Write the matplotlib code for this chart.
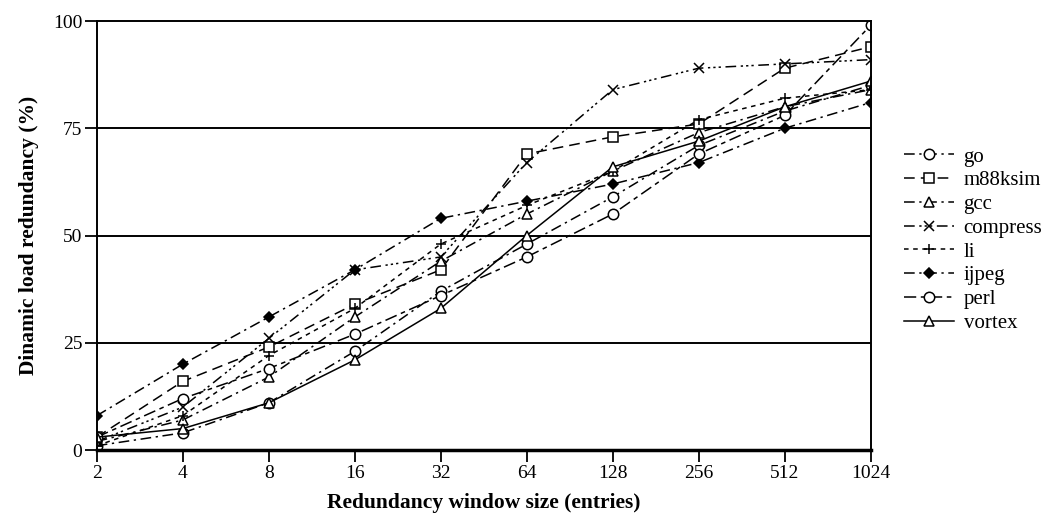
import matplotlib
matplotlib.use('Agg')
import matplotlib.pyplot as plt
from matplotlib.ticker import FixedLocator, FixedFormatter, NullLocator

# redundancy window sizes (entries)
window = [2, 4, 8, 16, 32, 64, 128, 256, 512, 1024]

go = [1, 4, 11, 23, 37, 48, 59, 71, 79, 85]
m88ksim = [3, 16, 24, 34, 42, 69, 73, 76, 89, 94]
gcc = [2, 7, 17, 31, 44, 55, 65, 74, 80, 84]
compress = [2, 10, 26, 42, 45, 67, 84, 89, 90, 91]
li = [1, 8, 22, 33, 48, 57, 65, 77, 82, 84]
ijpeg = [8, 20, 31, 42, 54, 58, 62, 67, 75, 81]
perl = [3, 12, 19, 27, 36, 45, 55, 69, 78, 99]
vortex = [3, 5, 11, 21, 33, 50, 66, 72, 80, 86]

yticks = [0, 25, 50, 75, 100]

plt.rcParams['font.family'] = ['Liberation Serif', 'DejaVu Serif']

series = [
    ('go', go, 'o', (0, (7, 3, 1.5, 3)), 'white'),
    ('m88ksim', m88ksim, 's', (0, (7, 4)), 'white'),
    ('gcc', gcc, '^', (0, (7, 3, 1.5, 3)), 'white'),
    ('compress', compress, 'x', (0, (7, 3, 1.5, 2, 1.5, 2, 1.5, 3)), 'white'),
    ('li', li, '+', (0, (3, 3)), 'white'),
    ('ijpeg', ijpeg, 'D', (0, (7, 3, 1.5, 3)), 'black'),
    ('perl', perl, 'o', (0, (8, 3, 3, 3)), 'white'),
    ('vortex', vortex, '^', '-', 'white'),
]

fig = plt.figure(figsize=(10.55, 5.19), dpi=100)
ax = fig.add_axes([0.0917, 0.1329, 0.7336, 0.8266])

for name, vals, mk, ls, fc in series:
    ms = 5 if mk == 'D' else 7.5
    ax.plot(window, vals, linestyle=ls, color='black', lw=1.1,
            marker=mk, markersize=ms, markerfacecolor=fc,
            markeredgecolor='black', markeredgewidth=1.1, label=name)

ax.set_xscale('log', base=2)
ax.set_xlim(2, 1024)
ax.set_ylim(0, 100)
ax.xaxis.set_major_locator(FixedLocator(window))
ax.xaxis.set_major_formatter(FixedFormatter([str(w) for w in window]))
ax.xaxis.set_minor_locator(NullLocator())
ax.set_yticks(yticks)
for y in yticks[1:-1]:
    ax.axhline(y, color='black', lw=1.4, zorder=0)

ax.tick_params(axis='both', direction='out', length=8.5, width=1.3,
               labelsize=14, colors='black', pad=2)
for side in ['left', 'right', 'top']:
    ax.spines[side].set_linewidth(1.4)
ax.spines['bottom'].set_linewidth(2.5)

ax.set_xlabel('Redundancy window size (entries)', fontsize=15.5,
              fontweight='bold', labelpad=8)
ax.set_ylabel('Dinamic load redundancy (%)', fontsize=15.5,
              fontweight='bold', labelpad=10)

fig.legend(loc='center left', bbox_to_anchor=(0.857, 0.5376),
           frameon=False, fontsize=15, handlelength=2.4,
           handletextpad=0.45, labelspacing=0.2, borderpad=0,
           borderaxespad=0)

fig.savefig('out.png', dpi=100)
